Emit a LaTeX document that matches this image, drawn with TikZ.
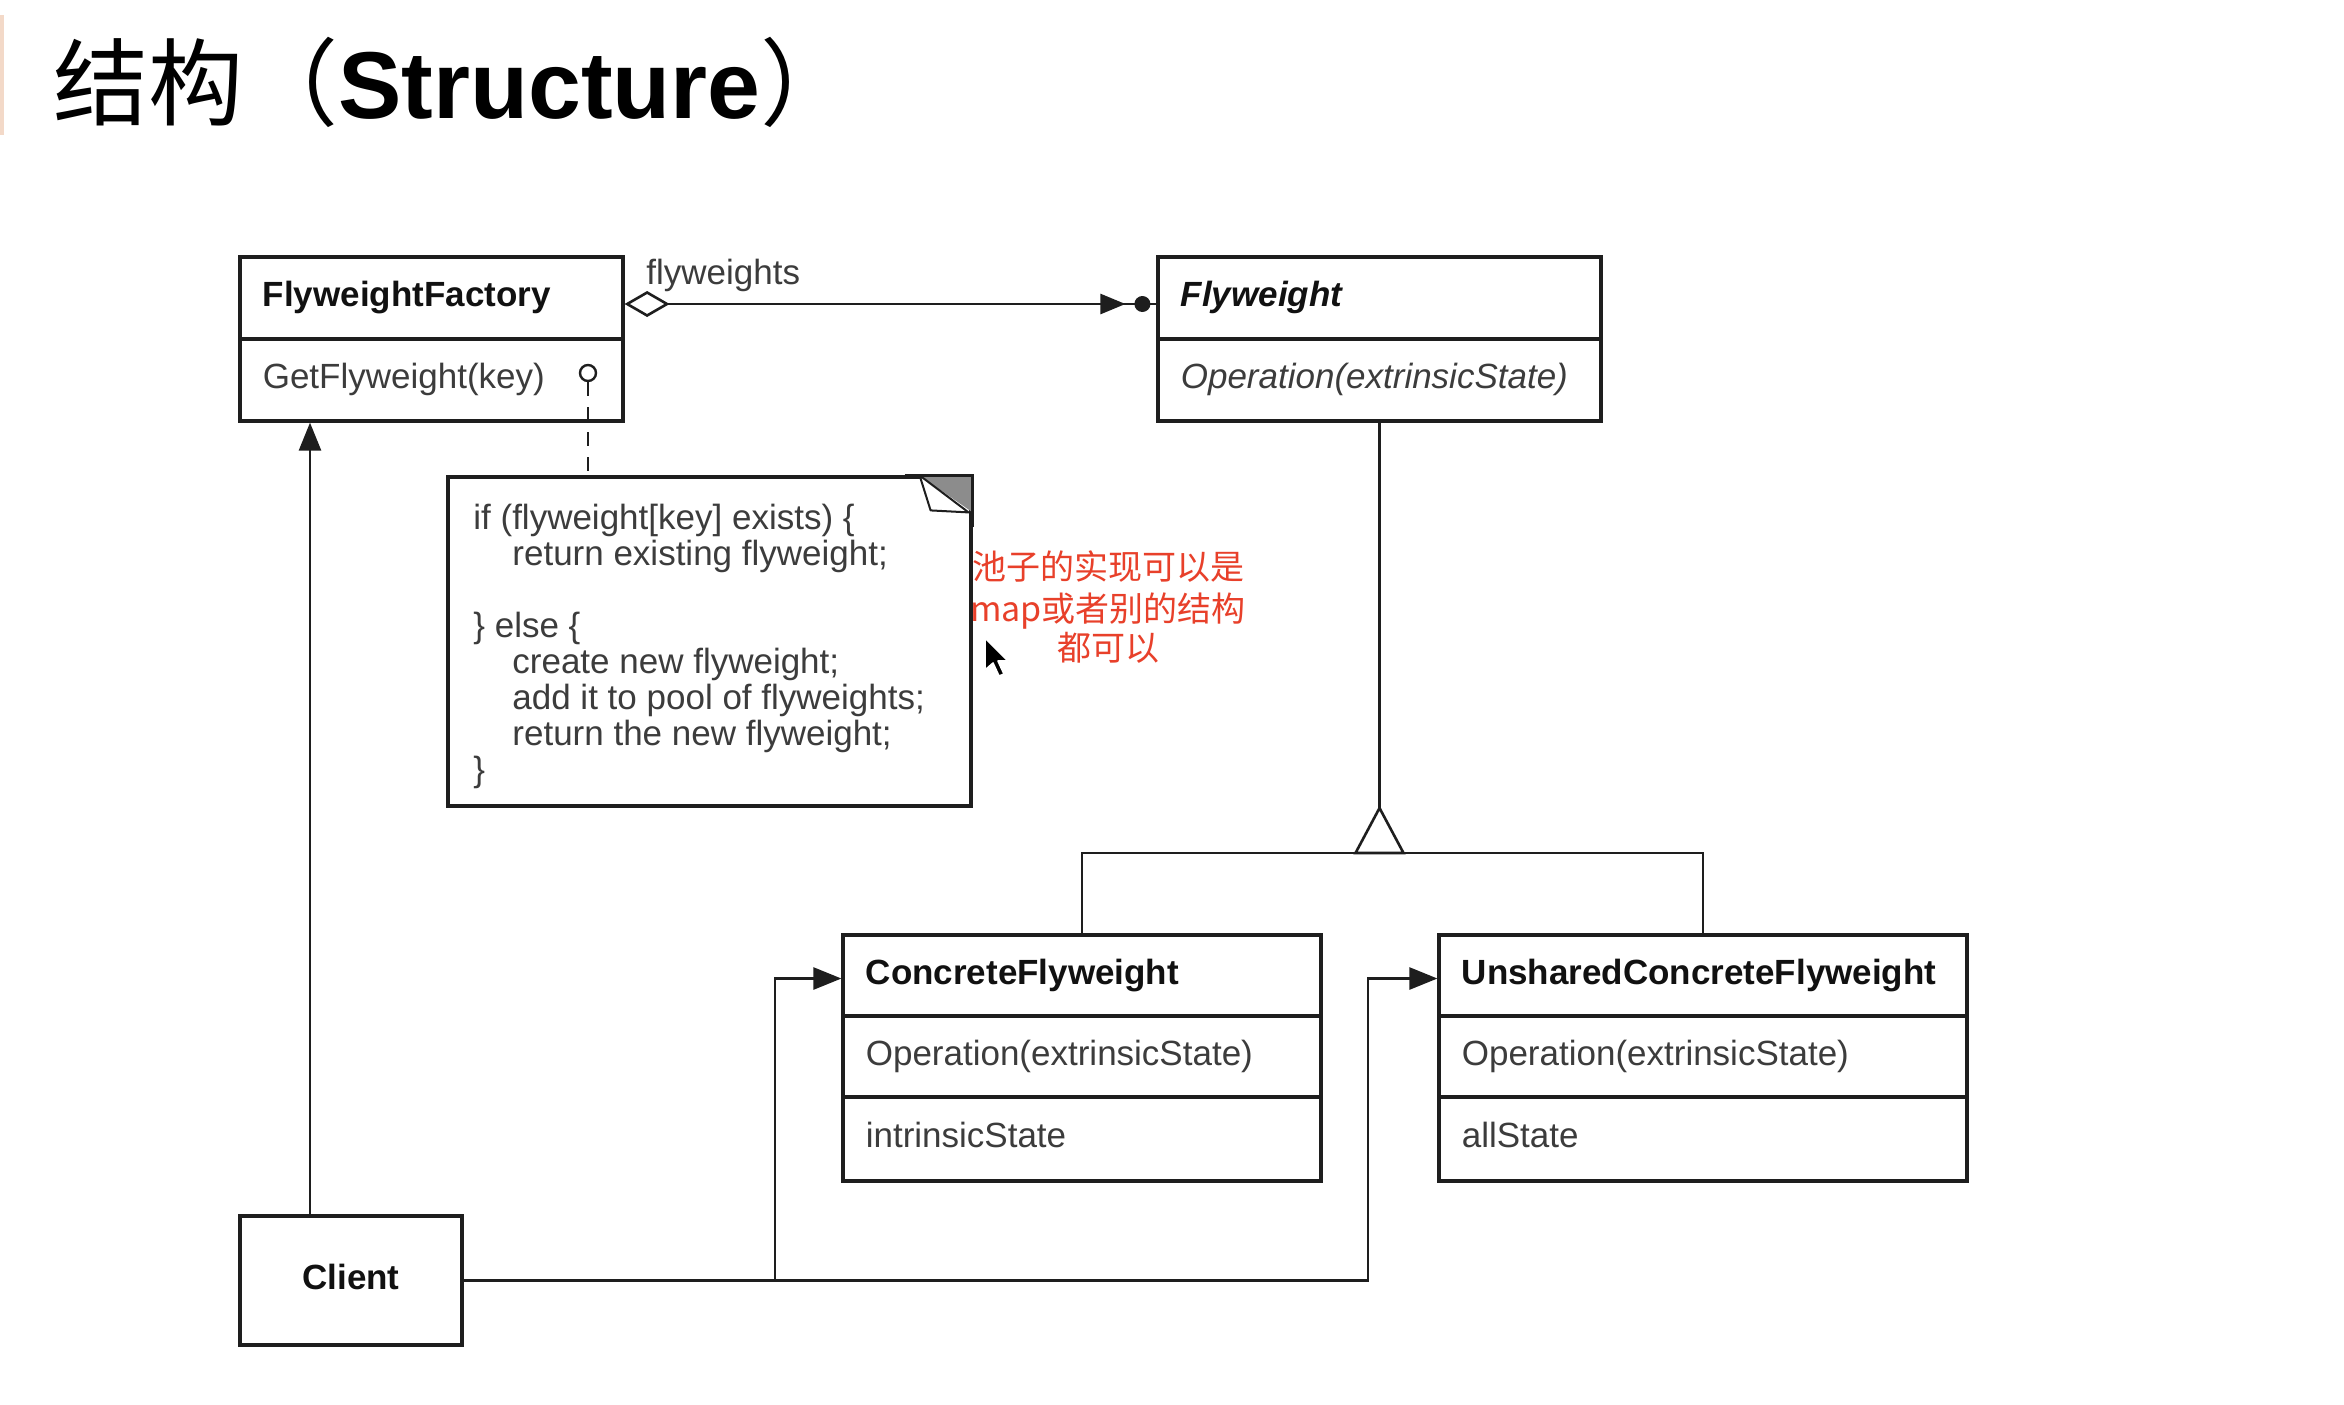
\documentclass[tikz,border=0pt]{standalone}
\usepackage{fontspec}
\setmainfont{Liberation Sans}
\newfontfamily\cjk{Noto Sans CJK SC}
\usetikzlibrary{arrows.meta,fit,calc}
\definecolor{ln}{HTML}{1E1E1E}
\definecolor{txt}{HTML}{3C3C3C}
\definecolor{bd}{HTML}{111111}
\definecolor{redtxt}{HTML}{E8402A}
\definecolor{peach}{HTML}{F3D9C8}
\definecolor{cornergray}{HTML}{8C8C8C}
\tikzset{
  tri/.tip={Triangle[length=14pt,width=11pt]},
  box/.style={draw=ln, line width=1.6pt, inner sep=0pt},
  lbl/.style={anchor=west, inner sep=0pt, text height=12.6pt, text depth=3.7pt, text=txt, font=\fontsize{17.5pt}{18pt}\selectfont},
  boldlbl/.style={lbl, text=bd, font=\fontsize{17.5pt}{18pt}\selectfont\bfseries},
  codeline/.style={anchor=base west, inner sep=0pt, text=txt, font=\fontsize{17.5pt}{18pt}\selectfont},
  conn/.style={draw=ln, line width=1.3pt},
  redline/.style={anchor=base, inner sep=0pt, text=redtxt, font=\cjk\fontsize{17pt}{20pt}\selectfont}
}
\begin{document}
\begin{tikzpicture}[x=0.5pt,y=-0.5pt]
\fill[white] (0,0) rectangle (2344,1404);
\useasboundingbox (0,0) rectangle (2344,1404);
\fill[peach] (0,15) rectangle (4,135);

% title
\node[anchor=base west, inner sep=0pt, font=\fontsize{47.5pt}{50pt}\selectfont] (title) at (53,118) {{\cjk 结构（}\textbf{Structure}{\cjk ）}};

% class boxes
\node[box, fit={(240,257)(623,339)}] (ffh) {};
\node[box, fit={(240,339)(623,421)}] (ffb) {};
\node[box, fit={(1158,257)(1601,339)}] (fwh) {};
\node[box, fit={(1158,339)(1601,421)}] (fwb) {};
\node[box, fit={(843,935)(1321,1016)}] (cfh) {};
\node[box, fit={(843,1016)(1321,1097)}] (cfo) {};
\node[box, fit={(843,1097)(1321,1181)}] (cfs) {};
\node[box, fit={(1439,935)(1967,1016)}] (ucfh) {};
\node[box, fit={(1439,1016)(1967,1097)}] (ucfo) {};
\node[box, fit={(1439,1097)(1967,1181)}] (ucfs) {};
\node[box, fit={(240,1216)(462,1345)}] (cl) {};

% class texts
\node[boldlbl] (tffh) at ([xshift=12pt]ffh.west) {FlyweightFactory};
\node[lbl] (tffb) at ([xshift=12pt]ffb.west) {GetFlyweight(key)};
\node[boldlbl, font=\fontsize{17.5pt}{18pt}\selectfont\bfseries\itshape] (tfwh) at ([xshift=12pt]fwh.west) {Flyweight};
\node[lbl, font=\fontsize{17.5pt}{18pt}\selectfont\itshape] (tfwb) at ([xshift=12pt]fwb.west) {Operation(extrinsicState)};
\node[boldlbl] (tcfh) at ([xshift=12pt]cfh.west) {ConcreteFlyweight};
\node[lbl] (tcfo) at ([xshift=12pt]cfo.west) {Operation(extrinsicState)};
\node[lbl] (tcfs) at ([xshift=12pt]cfs.west) {intrinsicState};
\node[boldlbl] (tucfh) at ([xshift=12pt]ucfh.west) {UnsharedConcreteFlyweight};
\node[lbl] (tucfo) at ([xshift=12pt]ucfo.west) {Operation(extrinsicState)};
\node[lbl] (tucfs) at ([xshift=12pt]ucfs.west) {allState};
\node[boldlbl, anchor=center] (tcl) at (cl.center) {Client};

% note
\node[box, fit={(448,477)(971,806)}] (note) {};
\fill[cornergray] ([xshift=-26.5pt]note.north east) -- (note.north east) -- ([yshift=-18.5pt]note.north east) -- cycle;
\draw[ln, line width=1pt, fill=white, line join=round] ([xshift=-26.5pt]note.north east) -- ([xshift=-21pt,yshift=-17.5pt]note.north east) -- ([xshift=-2pt,yshift=-18.5pt]note.north east) -- cycle;
\draw[ln, line width=1.6pt] ([xshift=-34pt]note.north east) -- (note.north east) -- ([yshift=-26pt]note.north east);
\node[codeline] (c1) at (473,529) {if (flyweight[key] exists) \{};
\node[codeline] (c2) at (512,565) {return existing flyweight;};
\node[codeline] (c3) at (473,637) {\} else \{};
\node[codeline] (c4) at (512,673) {create new flyweight;};
\node[codeline] (c5) at (512,709) {add it to pool of flyweights;};
\node[codeline] (c6) at (512,745) {return the new flyweight;};
\node[codeline] (c7) at (473,781) {\}};

% pin and dashed link to note
\node[circle, draw=ln, line width=1.2pt, fill=white, minimum size=8pt, inner sep=0pt] (pin) at (588,373) {};
\draw[conn, line width=1.2pt, dash pattern=on 7pt off 5.5pt] (pin.south) -- (pin.south |- note.north);

% flyweights association
\draw[conn, {Diamond[open, length=22.5pt, width=13pt]}-] ([yshift=-3pt]ffh.east) -- ([yshift=-3pt]fwh.west);
\draw[conn, -{Triangle[length=12.5pt,width=10pt]}] ([xshift=-30pt,yshift=-3pt]fwh.west) -- ([xshift=-15.5pt,yshift=-3pt]fwh.west);
\fill[ln] ([xshift=-7pt,yshift=-3pt]fwh.west) circle (4pt);
\node[anchor=base west, inner sep=0pt, text=txt, font=\fontsize{17.5pt}{18pt}\selectfont] (lfw) at (646,284) {flyweights};

% client links
\coordinate (cx) at (310,0);
\coordinate (j1) at (775,0);
\coordinate (j2) at (1368,0);
\draw[conn, -{tri}] (cl.north -| cx) -- (ffb.south -| cx);
\draw[conn, -{tri}] (cl.east) -- (cl.east -| j2) |- ([yshift=-1.5pt]ucfh.west);
\draw[conn, -{tri}] (cl.east -| j1) |- ([yshift=-1.5pt]cfh.west);

% generalization
\coordinate (gy) at (0,853);
\coordinate (gen) at (fwb.south |- gy);
\draw[conn] (fwb.south) -- ([yshift=22.5pt]gen);
\draw[conn] (cfh.north) |- (gen) -| (ucfh.north);
\draw[conn, fill=white, line join=miter] ([xshift=-12pt]gen) -- ([yshift=22.5pt]gen) -- ([xshift=12pt]gen) -- cycle;

% red annotation
\node[redline] (r1) at (1108,579) {池子的实现可以是};
\node[redline] (r2) at (1108,621) {map或者别的结构};
\node[redline] (r3) at (1108,660) {都可以};

% cursor
\draw[white, line width=0.8pt, fill=black, line join=round] (985,638) -- (985,670) -- (993,663) -- (999,676) -- (1004,674) -- (998,661) -- (1008,661) -- cycle;
\end{tikzpicture}
\end{document}
